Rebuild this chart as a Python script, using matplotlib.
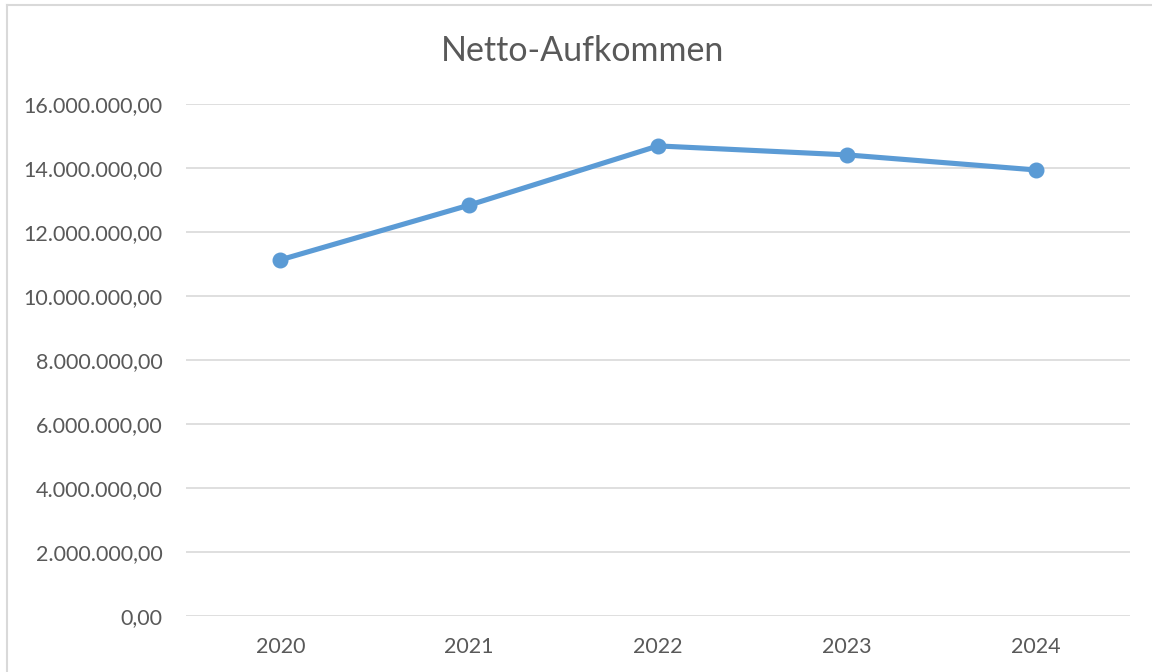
import matplotlib.pyplot as plt
from matplotlib.ticker import FuncFormatter
from matplotlib.lines import Line2D

years = ["2020", "2021", "2022", "2023", "2024"]
netto = [11130000, 12840000, 14690000, 14410000, 13940000]
yticks = [0, 2000000, 4000000, 6000000, 8000000, 10000000, 12000000, 14000000, 16000000]

textc = "#595959"
gridc = "#D9D9D9"

def de_fmt(v, pos):
    s = f"{v:,.2f}"
    return s.replace(",", "X").replace(".", ",").replace("X", ".")

fig = plt.figure(figsize=(11.52, 6.72), dpi=100)
ax = fig.add_axes([186/1152, 1-616/672, (1130-186)/1152, (616-104)/672])

x = list(range(len(years)))
ax.plot(x, netto, color="#5B9BD5", linewidth=3.7, marker="o", markersize=10.5,
        solid_capstyle="round", zorder=3)

ax.set_xlim(-0.5, len(years)-0.5)
ax.set_ylim(0, 16000000)
ax.set_yticks(yticks)
ax.yaxis.set_major_formatter(FuncFormatter(de_fmt))
ax.set_xticks(x)
ax.set_xticklabels(years)
ax.grid(axis="y", color=gridc, linewidth=1.2)
ax.set_axisbelow(True)
for s in ax.spines.values():
    s.set_visible(False)
ax.tick_params(axis="both", length=0, labelsize=15.5, labelcolor=textc)
ax.tick_params(axis="y", pad=17)
ax.tick_params(axis="x", pad=15)
for lbl in ax.get_xticklabels() + ax.get_yticklabels():
    lbl.set_fontfamily("Lato")

fig.text(583/1152, 1-51/672, "Netto-Aufkommen", ha="center", va="center",
         fontsize=24.5, color=textc, fontfamily="Lato")

# chart border (left and top visible)
fig.add_artist(Line2D([7/1152, 7/1152], [0, 1-5/672], color=gridc, linewidth=1.5, transform=fig.transFigure))
fig.add_artist(Line2D([7/1152, 1], [1-5/672, 1-5/672], color=gridc, linewidth=1.5, transform=fig.transFigure))

fig.savefig("out.png", dpi=100)
